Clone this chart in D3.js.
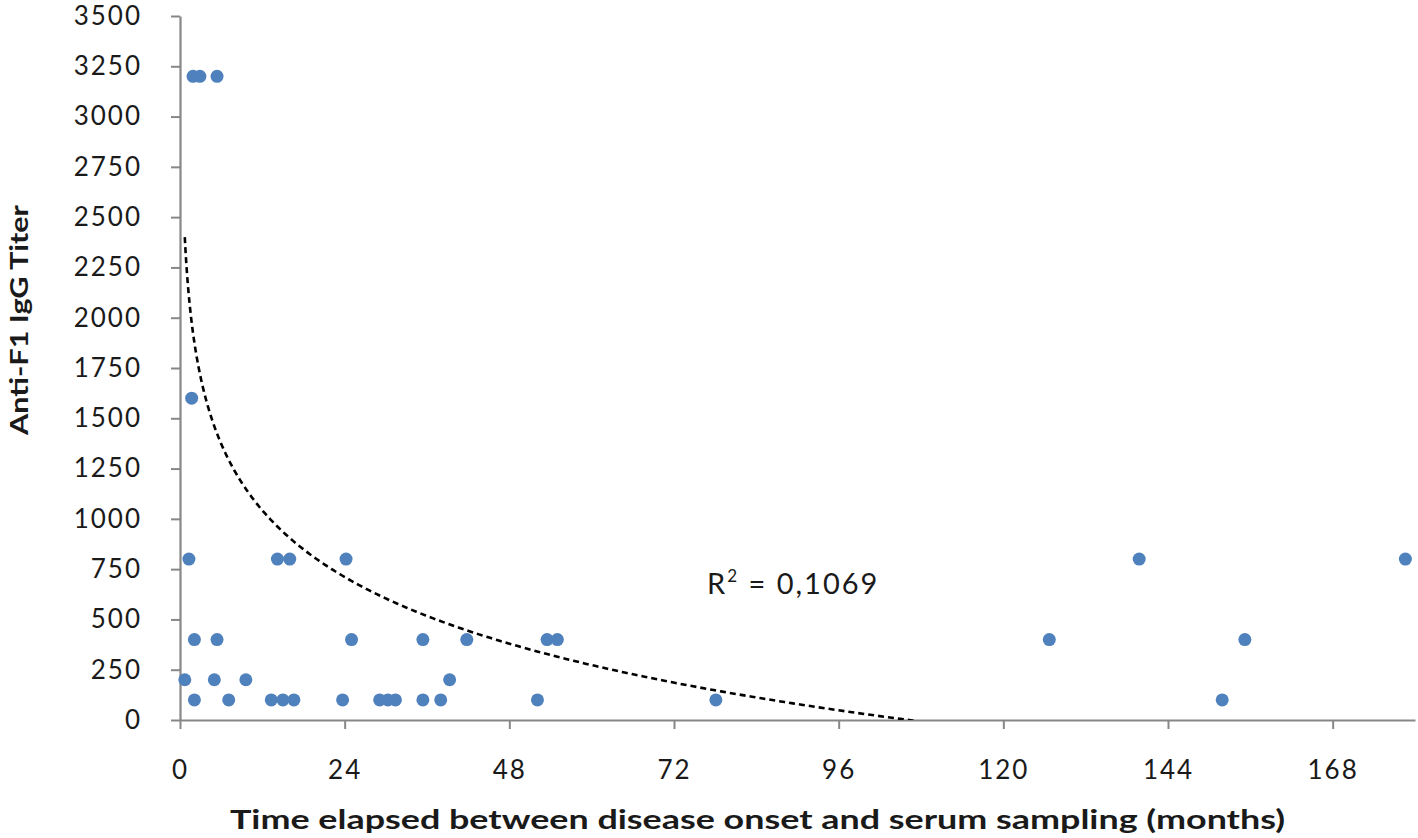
<!DOCTYPE html>
<html>
<head>
<meta charset="utf-8">
<script src="https://cdn.jsdelivr.net/npm/d3@7"></script>
<style>
  html, body { margin: 0; padding: 0; background: #fff; }
  svg { display: block; }
  text { font-family: Lato, "Open Sans", sans-serif; fill: #1a1a1a; }
</style>
</head>
<body>
<svg id="chart" width="1418" height="838"></svg>
<script>
// ---- data (months elapsed, anti-F1 IgG titer) ----
const months = [
  1.9, 2.9, 5.4,
  1.7,
  1.3, 14.2, 16.0, 24.2, 139.8, 178.6,
  2.1, 5.4, 25.0, 35.4, 41.8, 53.5, 55.0, 126.7, 155.2,
  0.7, 5.0, 9.6, 39.3,
  2.1, 7.1, 13.3, 15.0, 16.6, 23.7, 29.1, 30.3, 31.4, 35.4, 38.0, 52.1, 78.1, 151.9
];
const titers = [
  3200, 3200, 3200,
  1600,
  800, 800, 800, 800, 800, 800,
  400, 400, 400, 400, 400, 400, 400, 400, 400,
  200, 200, 200, 200,
  100, 100, 100, 100, 100, 100, 100, 100, 100, 100, 100, 100, 100, 100
];
// logarithmic trendline as shown in the chart: y = trendA * ln(x) + trendB
const trendA = -478;
const trendB = 2230;
const xTicks = [0, 24, 48, 72, 96, 120, 144, 168];
const yTicks = [0, 250, 500, 750, 1000, 1250, 1500, 1750, 2000, 2250, 2500, 2750, 3000, 3250, 3500];
const xDomain = [0, 180];
const yDomain = [0, 3500];
const r2Label = "0,1069";
const xTitle = "Time elapsed between disease onset and serum sampling (months)";
const yTitle = "Anti-F1 IgG Titer";

// ---- layout ----
const svg = d3.select("#chart");
const mLeft = 180, mRight = 1415, mTop = 16, mBottom = 720;
const x = d3.scaleLinear().domain(xDomain).range([mLeft, mRight]);
const y = d3.scaleLinear().domain(yDomain).range([mBottom, mTop]);
const axisColor = "#878787";

svg.append("defs").append("clipPath").attr("id", "plotclip")
  .append("rect").attr("x", mLeft).attr("y", mTop).attr("width", mRight - mLeft).attr("height", mBottom - mTop);

// ---- axes ----
const gx = svg.append("g").attr("transform", `translate(0,${mBottom})`)
  .call(d3.axisBottom(x).tickValues(xTicks).tickFormat(d3.format("d")).tickSize(9).tickSizeOuter(0).tickPadding(25));
const gy = svg.append("g").attr("transform", `translate(${mLeft},0)`)
  .call(d3.axisLeft(y).tickValues(yTicks).tickFormat(d3.format("d")).tickSize(9).tickSizeOuter(0).tickPadding(31));
[gx, gy].forEach(g => {
  g.select(".domain").attr("stroke", axisColor).attr("stroke-width", 2.2);
  g.selectAll(".tick line").attr("stroke", axisColor).attr("stroke-width", 2);
  g.selectAll(".tick text").attr("font-family", "Lato, sans-serif").attr("font-size", 26)
    .attr("fill", "#1a1a1a").style("letter-spacing", "2px");
});
gx.selectAll(".tick text").attr("dy", "0.95em");
gy.selectAll(".tick text").attr("dx", "2px");

// ---- trendline, drawn over the data range and clipped to the plot ----
const xmin = d3.min(months), xmax = d3.max(months);
const trendXs = d3.range(0, 401).map(i => xmin * Math.pow(xmax / xmin, i / 400));
svg.append("path")
  .datum(trendXs)
  .attr("clip-path", "url(#plotclip)")
  .attr("fill", "none")
  .attr("stroke", "#000")
  .attr("stroke-width", 2.6)
  .attr("stroke-dasharray", "6,4")
  .attr("d", d3.line().x(d => x(d)).y(d => y(trendA * Math.log(d) + trendB)));

// ---- points ----
svg.append("g").selectAll("circle")
  .data(months.map((m, i) => [m, titers[i]]))
  .join("circle")
  .attr("cx", d => x(d[0]))
  .attr("cy", d => y(d[1]))
  .attr("r", 6.5)
  .attr("fill", "#4f81bd");

// ---- R² label ----
const rl = svg.append("text").attr("x", 707).attr("y", 594).attr("font-size", 29).style("letter-spacing", "2px");
rl.append("tspan").text("R");
rl.append("tspan").attr("font-size", 17).attr("dy", -12).text("2");
rl.append("tspan").attr("dy", 12).text(" = " + r2Label);

// ---- axis titles ----
svg.append("text")
  .attr("x", 230).attr("y", 829)
  .attr("font-size", 26).attr("font-weight", "bold")
  .attr("textLength", 1055).attr("lengthAdjust", "spacingAndGlyphs")
  .text(xTitle);
svg.append("text")
  .attr("transform", "translate(28,435) rotate(-90)")
  .attr("font-size", 24).attr("font-weight", "bold")
  .attr("textLength", 230).attr("lengthAdjust", "spacingAndGlyphs")
  .text(yTitle);
</script>
</body>
</html>
